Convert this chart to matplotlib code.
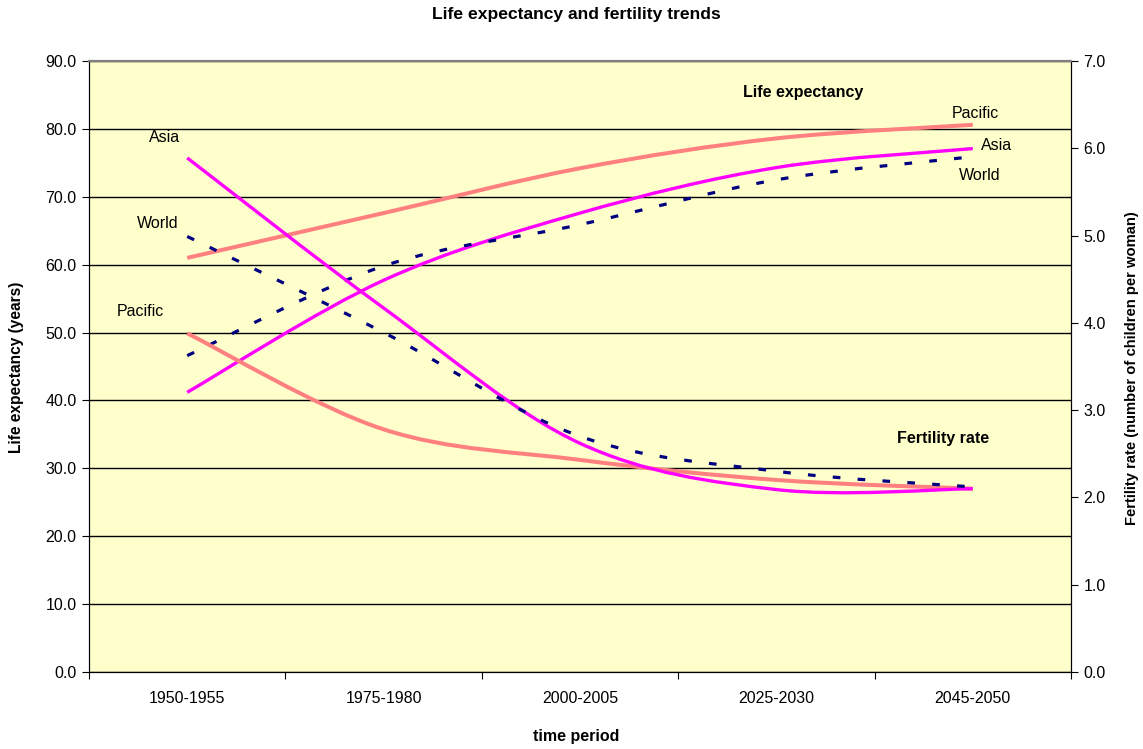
import matplotlib
matplotlib.use("Agg")
import matplotlib.pyplot as plt
from matplotlib.path import Path
from matplotlib.patches import PathPatch
import numpy as np

plt.rcParams['font.family'] = ['Liberation Sans', 'DejaVu Sans']

periods = ["1950-1955", "1975-1980", "2000-2005", "2025-2030", "2045-2050"]
le_pacific = [61.0, 67.6, 74.2, 78.6, 80.6]
le_asia = [41.2, 57.7, 67.6, 74.3, 77.1]
le_world = [46.6, 59.8, 65.9, 72.5, 75.9]
fr_pacific = [3.88, 2.78, 2.43, 2.20, 2.10]
fr_asia = [5.89, 4.17, 2.62, 2.09, 2.10]
fr_world = [4.99, 3.89, 2.70, 2.30, 2.12]

C_PAC = "#FF8080"
C_ASIA = "#FF00FF"
C_WORLD = "#000080"
BG = "#FFFFCC"
FS = 11.5

W, H = 1143, 749
fig = plt.figure(figsize=(W / 100, H / 100), dpi=100)
L, R, T, B = 89, 1071, 61, 672
ax = fig.add_axes([L / W, 1 - B / H, (R - L) / W, (B - T) / H])
ax.set_facecolor(BG)
ax2 = ax.twinx()

x = np.arange(len(periods))


def smooth_patch(axis, xs, ys, **kw):
    n = len(xs)
    verts = [(xs[0], ys[0])]
    codes = [Path.MOVETO]
    for i in range(n - 1):
        a = i - 1 if i > 0 else i
        d = i + 2 if i + 2 < n else i + 1
        c1 = (xs[i] + (xs[i + 1] - xs[a]) / 6.0, ys[i] + (ys[i + 1] - ys[a]) / 6.0)
        c2 = (xs[i + 1] - (xs[d] - xs[i]) / 6.0, ys[i + 1] - (ys[d] - ys[i]) / 6.0)
        verts += [c1, c2, (xs[i + 1], ys[i + 1])]
        codes += [Path.CURVE4] * 3
    p = PathPatch(Path(verts, codes), fill=False, **kw)
    axis.add_patch(p)
    return p


dash = dict(linestyle=(0, (2.4, 5.4)), capstyle="butt")
# life expectancy (left axis)
smooth_patch(ax, x, le_pacific, edgecolor=C_PAC, linewidth=2.9, zorder=3)
smooth_patch(ax, x, le_asia, edgecolor=C_ASIA, linewidth=2.4, zorder=4)
smooth_patch(ax, x, le_world, edgecolor=C_WORLD, linewidth=2.3, zorder=5, **dash)
# fertility (right axis)
smooth_patch(ax2, x, fr_pacific, edgecolor=C_PAC, linewidth=2.9, zorder=3)
smooth_patch(ax2, x, fr_asia, edgecolor=C_ASIA, linewidth=2.4, zorder=4)
smooth_patch(ax2, x, fr_world, edgecolor=C_WORLD, linewidth=2.3, zorder=5, **dash)

ax.set_xlim(-0.5, len(periods) - 0.5)
ax.set_ylim(0, 90)
ax2.set_ylim(0, 7)

# x ticks: marks at category boundaries, labels at centres
ax.set_xticks(np.arange(-0.5, len(periods), 1.0))
ax.set_xticklabels([])
ax.set_xticks(x, minor=True)
ax.set_xticklabels(periods, minor=True)
ax.tick_params(axis="x", which="major", direction="out", length=5, color="black")
ax.tick_params(axis="x", which="minor", length=0, pad=14, labelsize=FS)

ax.set_yticks(np.arange(0, 91, 10))
ax.set_yticklabels([f"{v:.1f}" for v in np.arange(0, 91, 10)])
ax.tick_params(axis="y", direction="out", length=5, labelsize=FS, pad=4)
ax2.set_yticks(np.arange(0, 8, 1))
ax2.set_yticklabels([f"{v:.1f}" for v in np.arange(0, 8, 1)])
ax2.tick_params(axis="y", direction="out", length=5, labelsize=FS, pad=4)

ax.grid(axis="y", color="black", linewidth=1.0)
ax.set_axisbelow(True)
for s in ["left", "bottom", "right"]:
    ax.spines[s].set_color("black")
    ax2.spines[s].set_color("black")
ax.spines["top"].set_color("#808080")
ax2.spines["top"].set_color("#808080")
ax.spines["top"].set_linewidth(1.5)
ax2.spines["top"].set_linewidth(1.5)

ax.set_zorder(ax2.get_zorder() - 1)
ax2.patch.set_visible(False)
ax.patch.set_visible(True)


def ftext(px, py, s, **kw):
    fig.text(px / W, 1 - py / H, s, ha="center", va="center", **kw)


ftext(576, 15, "Life expectancy and fertility trends", fontsize=12.6, fontweight="bold")
ftext(576, 737, "time period", fontsize=FS, fontweight="bold")
ftext(17, 367, "Life expectancy (years)", fontsize=11.2, fontweight="bold", rotation=90)
ftext(1132, 368, "Fertility rate (number of children per woman)", fontsize=10.6,
      fontweight="bold", rotation=90)

ftext(165, 137, "Asia", fontsize=FS)
ftext(158, 223, "World", fontsize=FS)
ftext(140, 312, "Pacific", fontsize=FS)
ftext(803, 93, "Life expectancy", fontsize=FS, fontweight="bold")
ftext(975, 113, "Pacific", fontsize=FS)
ftext(997, 146, "Asia", fontsize=FS)
ftext(980, 176, "World", fontsize=FS)
ftext(943, 439, "Fertility rate", fontsize=FS, fontweight="bold")

fig.savefig("out.png", dpi=100, facecolor="white")
